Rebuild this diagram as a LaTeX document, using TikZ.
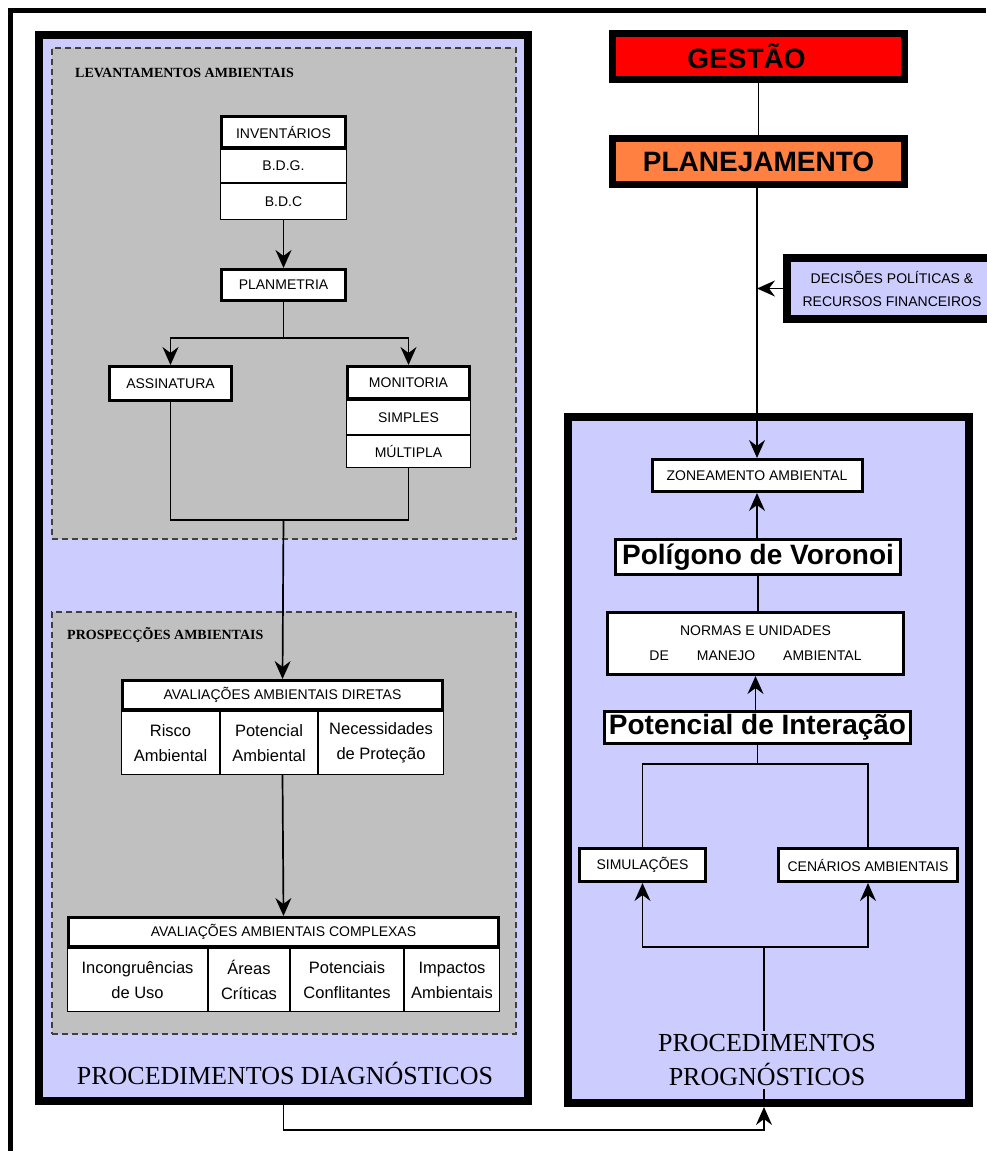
\documentclass[tikz,border=0pt]{standalone}
\usepackage{fontspec}
\setmainfont{Liberation Sans}
\newfontfamily\serf{Liberation Serif}
\usetikzlibrary{arrows.meta}
\definecolor{lav}{RGB}{204,204,255}
\definecolor{panelgrey}{RGB}{192,192,192}
\definecolor{redbox}{RGB}{255,0,0}
\definecolor{orangebox}{RGB}{255,128,64}

\begin{document}
\begin{tikzpicture}[x=1pt,y=-1pt,
  every node/.style={inner sep=0pt, align=center},
  frame/.style={draw=black, line width=8pt, fill=lav},
  panelbox/.style={draw=black!75, line width=1.3pt, dash pattern=on 6pt off 4pt, fill=panelgrey},
  hbox/.style={draw, line width=3pt, fill=white, font=\fontsize{14}{15}\selectfont},
  cell/.style={draw, line width=1.4pt, fill=white},
  capcell/.style={cell, font=\fontsize{14}{15}\selectfont},
  txtcell/.style={cell, font=\fontsize{16.5}{25}\selectfont},
  bigbold/.style={font=\fontsize{28}{32}\selectfont\bfseries},
  topbox/.style={draw, line width=7pt, bigbold},
  title/.style={font=\serf\fontsize{26}{34}\selectfont},
  subtitle/.style={font=\serf\bfseries\fontsize{14}{15}\selectfont, anchor=west},
  link/.style={line width=1.7pt},
  arr/.style={link, -{Stealth[length=18pt,width=16pt,inset=6pt]}},
  wh/.style 2 args={minimum width=#1, minimum height=#2},
]
\useasboundingbox (0,0) rectangle (986,1151);
\fill[white] (0,0) rectangle (986,1151);

% outer frame (top and left edges)
\draw[line width=5pt] (10,1151) -- (10,10) -- (986,10);

% ---------- diagnostic procedures ----------
\node[frame, wh={489}{1066}] (diag) at (283.5,568) {};
\node[panelbox, wh={464}{491}] (lev) at (284,293.5) {};
\node[panelbox, wh={464}{422}] (pros) at (284,823) {};
\node[subtitle] (levt) at (75,73) {LEVANTAMENTOS AMBIENTAIS};
\node[subtitle] (prost) at (67,635) {PROSPECÇÕES AMBIENTAIS};

\node[capcell, wh={125.6}{32.6}] (bdg) at (283.5,166) {B.D.G.};
\node[capcell, wh={125.6}{35.6}] (bdc) at (283.5,201.5) {B.D.C};
\node[hbox, wh={124}{31}] (inv) at (283.5,132) {INVENTÁRIOS};

\node[hbox, wh={124}{31}] (planm) at (283.5,285) {PLANMETRIA};
\node[hbox, wh={122}{34}] (assin) at (170.5,383.5) {ASSINATURA};
\node[capcell, wh={123.6}{33.6}] (simp) at (408.5,417.5) {SIMPLES};
\node[capcell, wh={123.6}{31.6}] (mult) at (408.5,451.5) {MÚLTIPLA};
\node[hbox, wh={122}{32}] (monit) at (408.5,382.5) {MONITORIA};

\node[txtcell, wh={97.6}{62.6}] (d1) at (170.5,743) {Risco\\Ambiental};
\node[txtcell, wh={96.6}{62.6}] (d2) at (269,743) {Potencial\\Ambiental};
\node[txtcell, wh={124.6}{62.6}] (d3) at (381,743) {Necessidades\\de Proteção};
\node[hbox, wh={320}{29}] (avd) at (282.5,695) {AVALIAÇÕES AMBIENTAIS DIRETAS};

\node[txtcell, wh={139.6}{62.6}] (c1) at (137.5,980) {Incongruências\\de Uso};
\node[txtcell, wh={80.6}{62.6}] (c2) at (249,980) {Áreas\\Críticas};
\node[txtcell, wh={112.6}{62.6}] (c3) at (347,980) {Potenciais\\Conflitantes};
\node[txtcell, wh={94.6}{62.6}] (c4) at (452,980) {Impactos\\Ambientais};
\node[hbox, wh={430}{29}] (avc) at (283.5,932) {AVALIAÇÕES AMBIENTAIS COMPLEXAS};

\node[title] (diagt) at (285,1073) {PROCEDIMENTOS DIAGNÓSTICOS};

% ---------- management chain ----------
\node[topbox, fill=redbox, wh={292}{46}] (gest) at (758.5,56.5) {GESTÃO\hspace{24pt}};
\node[topbox, fill=orangebox, wh={292}{46}] (plan) at (758.5,161.5) {PLANEJAMENTO};
\node[draw, line width=8pt, fill=lav, wh={210}{61},
      font=\fontsize{14}{23}\selectfont] (dec) at (892,288.5)
      {DECISÕES POLÍTICAS \&\\RECURSOS FINANCEIROS};

% ---------- prognostic procedures ----------
\node[frame, wh={401}{686}] (progf) at (768.5,760) {};
\node[hbox, wh={210}{32}] (zone) at (757,475.5) {ZONEAMENTO AMBIENTAL};
\node[hbox, bigbold, wh={285}{35}] (poly) at (758,557) {Polígono de Voronoi};
\node[hbox, wh={296}{62}, font=\fontsize{14}{25}\selectfont] (norm) at (755.5,643.5)
      {NORMAS E UNIDADES\\DE\hspace{28pt}MANEJO\hspace{28pt}AMBIENTAL};
\node[hbox, bigbold, wh={306}{32}] (pot) at (757.5,727.5) {Potencial de Interação};
\node[hbox, wh={126}{33}] (sim) at (642.5,865) {SIMULAÇÕES};
\node[hbox, wh={179}{33}] (cen) at (868,865) {CENÁRIOS AMBIENTAIS};

% ---------- connectors ----------
\coordinate (lb) at (283.5,338);
\coordinate (lj) at (283.5,520);
\coordinate (tj) at (757.5,764);
\coordinate (bj) at (764,947);
\coordinate (low) at (283.5,1130);

\draw[arr] (bdc.south) -- (planm.north);
\draw[link] (planm.south) -- (lb);
\draw[arr] (lb) -| (assin.north);
\draw[arr] (lb) -| (monit.north);
\draw[link] (assin.south) |- (lj) -| (mult.south);
\draw[arr] (lj) -- (avd.north);
\draw[arr] (avd.south |- d2.south) -- (avc.north);

\draw[link] (gest.south) -- (plan.north);
\draw[arr] (plan.south -| zone.north) -- (zone.north);
\draw[arr] (dec.west) -- (dec.west -| zone.north);
\draw[arr] (poly.north -| zone.south) -- (zone.south);
\draw[link] (poly.south) -- (poly.south |- norm.north);
\draw[arr] (pot.north -| norm.south) -- (norm.south);
\draw[link] (pot.south) -- (tj);
\draw[link] (sim.north) |- (tj) -| (cen.north);
\draw[arr] (bj) -| (sim.south);
\draw[arr] (bj) -| (cen.south);
\draw[link] (bj) -- (bj |- progf.south);
\draw[arr] (diag.south) -- (low) -- (bj |- low) -- (bj |- progf.south);

\node[title, fill=lav, inner sep=3pt] (progt) at (767,1060) {PROCEDIMENTOS\\PROGNÓSTICOS};
\end{tikzpicture}
\end{document}
